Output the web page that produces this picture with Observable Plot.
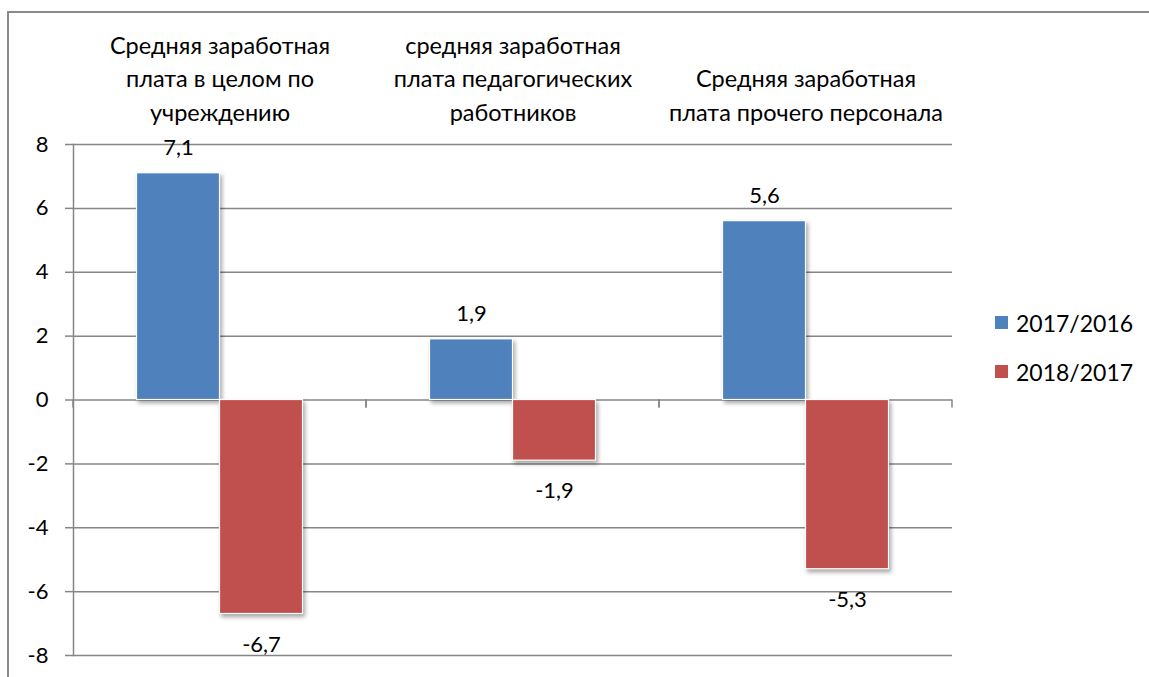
<!DOCTYPE html>
<html>
<head>
<meta charset="utf-8">
<script src="https://cdn.jsdelivr.net/npm/d3@7"></script>
<script src="https://cdn.jsdelivr.net/npm/@observablehq/plot@0.6"></script>
<style>
  html, body { margin: 0; padding: 0; background: #fff; }
  #wrap { position: relative; width: 1149px; height: 677px; overflow: hidden; background: #fff; font-family: Lato, "Open Sans", sans-serif; }
  #border { position: absolute; left: 7px; top: 11px; width: 1300px; height: 800px; border: 2px solid #8a8a8a; box-sizing: border-box; }
  #chart { position: absolute; left: 0; top: 0; }
  #legend { position: absolute; left: 995px; top: 298px; }
  .item { display: flex; align-items: center; height: 49px; font-size: 23px; color: #000; }
  .sw { width: 13px; height: 13px; margin-right: 8px; }
</style>
</head>
<body>
<div id="wrap">
  <div id="border"></div>
  <div id="chart"></div>
  <div id="legend"></div>
</div>
<script>
const categories = [
  "Средняя заработная\nплата в целом по\nучреждению",
  "средняя заработная\nплата педагогических\nработников",
  "Средняя заработная\nплата прочего персонала"
];
const series = ["2017/2016", "2018/2017"];
const values2017_2016 = [7.1, 1.9, 5.6];
const values2018_2017 = [-6.7, -1.9, -5.3];
const seriesColors = ["#4F81BD", "#C0504D"];
const yTicks = [-8, -6, -4, -2, 0, 2, 4, 6, 8];

const seriesValues = [values2017_2016, values2018_2017];
const rows = categories.flatMap((c, i) => series.map((s, j) => ({category: c, series: s, value: seriesValues[j][i]})));
const fmt = d => String(d.value).replace(".", ",");
const FONT = "Lato, 'Open Sans', sans-serif";

function boundaryTicks(index, scales) {
  const [x0, x1] = scales.x.range();
  const y0 = scales.y(0);
  const g = d3.create("svg:g").attr("stroke", "#868686").attr("stroke-width", 1.5);
  for (const x of [x0, x1]) g.append("line").attr("x1", x).attr("x2", x).attr("y1", y0).attr("y2", y0 + 8);
  return g.node();
}

const plot = Plot.plot({
  width: 960,
  height: 677,
  marginLeft: 72,
  marginRight: 8,
  marginTop: 144,
  marginBottom: 22,
  style: {fontFamily: FONT, fontSize: "22px", color: "#000", background: "transparent"},
  fx: {domain: categories, padding: 0, label: null},
  x: {domain: series, paddingInner: 0, paddingOuter: 0.765, round: false, axis: null},
  y: {domain: [-8, 8], label: null},
  color: {domain: series, range: seriesColors},
  marks: [
    Plot.gridY(yTicks, {stroke: "#868686", strokeOpacity: 1, strokeWidth: 1.5}),
    Plot.frame({anchor: "left", facetAnchor: "left", stroke: "#868686", strokeWidth: 1.5}),
    Plot.axisY({ticks: yTicks, tickSize: 8, tickPadding: 17, fontSize: 22, stroke: "#868686", strokeWidth: 1.5, tickFormat: d => String(d), label: null}),
    Plot.axisFx({anchor: "top", tickSize: 0, tickPadding: 24, lineHeight: 1.41, fontSize: 23.5, label: null}),
    boundaryTicks,
    Plot.barY(rows, {fx: "category", x: "series", y: "value", fill: "series", stroke: "white", strokeWidth: 1.2}),
    Plot.text(rows.filter(d => d.value >= 0), {fx: "category", x: "series", y: "value", text: fmt, dy: -25, fontSize: 22, fill: "#000"}),
    Plot.text(rows.filter(d => d.value < 0), {fx: "category", x: "series", y: "value", text: fmt, dy: 30.5, fontSize: 22, fill: "#000"})
  ]
});
plot.querySelectorAll('g[aria-label="bar"]').forEach(g => g.style.filter = "drop-shadow(2px 3px 2px rgba(0,0,0,0.35))");
document.getElementById("chart").appendChild(plot);

const legend = document.getElementById("legend");
series.forEach((s, i) => {
  const item = document.createElement("div");
  item.className = "item";
  const sw = document.createElement("div");
  sw.className = "sw";
  sw.style.background = seriesColors[i];
  const t = document.createElement("span");
  t.textContent = s;
  item.appendChild(sw);
  item.appendChild(t);
  legend.appendChild(item);
});
</script>
</body>
</html>
